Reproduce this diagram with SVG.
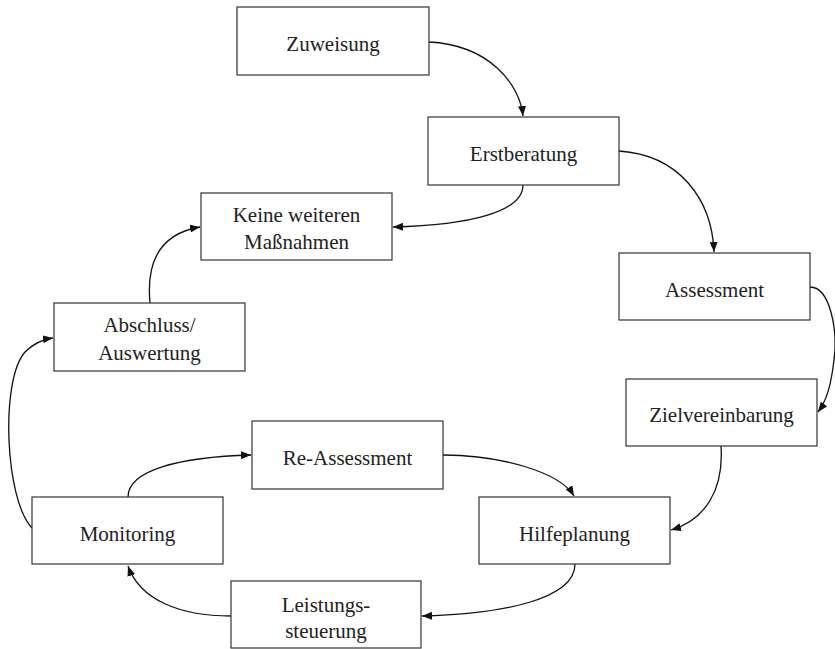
<svg xmlns="http://www.w3.org/2000/svg" width="835" height="649" viewBox="0 0 835 649">
<defs>
<marker id="ah" viewBox="0 0 10 8" refX="10" refY="4" markerWidth="10" markerHeight="8" markerUnits="userSpaceOnUse" orient="auto">
<path d="M0,0 L10,4 L0,8 z" fill="#111"/>
</marker>
<style>
.box{fill:#fff;stroke:#333;stroke-width:1.2}
.lbl{font-family:'Liberation Serif','Times New Roman',serif;font-size:21px;fill:#222;text-anchor:middle}
.con{fill:none;stroke:#111;stroke-width:1.3;marker-end:url(#ah)}
</style>
</defs>
<rect width="835" height="649" fill="#fff"/>
<g id="connectors">
<path class="con" d="M429,42 C490,45 520,85 523,116"/>
<path class="con" d="M523,185 C523,212 470,225 393,227"/>
<path class="con" d="M619,151 C680,155 712,200 714,252"/>
<path class="con" d="M810,287 C830,287 838,330 834,360 C831,385 827,400 818,412"/>
<path class="con" d="M721,446 C724,490 705,520 671,530"/>
<path class="con" d="M443,455 C500,455 560,472 574,496"/>
<path class="con" d="M575,564 C575,600 500,614 422,616"/>
<path class="con" d="M231,616 C180,616 140,600 128,566"/>
<path class="con" d="M128,497 C128,470 180,457 251,455"/>
<path class="con" d="M32,528 C5,500 0,380 25,352 C35,342 45,339 53,338"/>
<path class="con" d="M150,303 C145,250 170,232 200,227"/>
</g>
<g id="zuweisung"><rect class="box" x="237" y="7" width="192" height="68"/><text class="lbl" x="333" y="51">Zuweisung</text></g>
<g id="erstberatung"><rect class="box" x="428" y="117" width="191" height="68"/><text class="lbl" x="523.5" y="161">Erstberatung</text></g>
<g id="keine"><rect class="box" x="201" y="193" width="191" height="67"/><text class="lbl" x="296.5" y="222">Keine weiteren</text><text class="lbl" x="296.5" y="249">Maßnahmen</text></g>
<g id="assessment"><rect class="box" x="619" y="253" width="191" height="67"/><text class="lbl" x="714.5" y="297">Assessment</text></g>
<g id="zielvereinbarung"><rect class="box" x="626" y="379" width="191" height="67"/><text class="lbl" x="721.5" y="422">Zielvereinbarung</text></g>
<g id="abschluss"><rect class="box" x="54" y="303" width="191" height="68"/><text class="lbl" x="149.5" y="332">Abschluss/</text><text class="lbl" x="149.5" y="360">Auswertung</text></g>
<g id="reassessment"><rect class="box" x="252" y="421" width="191" height="68"/><text class="lbl" x="347.5" y="465">Re-Assessment</text></g>
<g id="monitoring"><rect class="box" x="32" y="497" width="191" height="67"/><text class="lbl" x="127.5" y="541">Monitoring</text></g>
<g id="hilfeplanung"><rect class="box" x="479" y="497" width="191" height="67"/><text class="lbl" x="574.5" y="541">Hilfeplanung</text></g>
<g id="leistungssteuerung"><rect class="box" x="231" y="581" width="190" height="67"/><text class="lbl" x="326" y="612">Leistungs-</text><text class="lbl" x="326" y="638">steuerung</text></g>
</svg>
